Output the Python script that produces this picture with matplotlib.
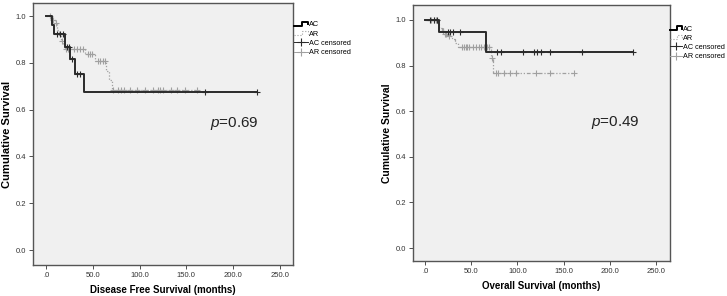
import numpy as np
import matplotlib
matplotlib.use("Agg")
import matplotlib.pyplot as plt
from matplotlib.lines import Line2D
from matplotlib.legend_handler import HandlerBase

plt.rcParams['font.family'] = ['Liberation Sans', 'DejaVu Sans']
plt.rcParams['mathtext.fontset'] = 'custom'
plt.rcParams['mathtext.it'] = 'Liberation Sans:italic'
plt.rcParams['mathtext.rm'] = 'Liberation Sans'

# Disease free survival
dfs_ac_t = [0, 6, 8.5, 20, 25.5, 31, 40.5]
dfs_ac_s = [1.0, 0.962, 0.925, 0.866, 0.815, 0.752, 0.677]
dfs_ac_end = 225
dfs_ac_cens = [12, 15, 18, 22, 24, 28, 33, 36, 170, 225]

dfs_ar_t = [0, 5, 9, 12, 14, 16, 18, 20, 42, 52, 64, 67, 70]
dfs_ar_s = [1.0, 0.985, 0.97, 0.94, 0.92, 0.895, 0.88, 0.86, 0.84, 0.81, 0.765, 0.725, 0.683]
dfs_ar_end = 161
dfs_ar_cens = [4, 7, 11, 17, 21, 23, 25, 30, 33, 36, 39, 45, 47, 49, 56, 58, 61, 63,
               72, 77, 80, 83, 90, 97, 106, 114, 120, 122, 125, 134, 140, 148, 161]

# Overall survival
os_ac_t = [0, 15, 66]
os_ac_s = [1.0, 0.946, 0.86]
os_ac_end = 225
os_ac_cens = [5, 10, 13, 25, 27, 30, 38, 78, 82, 106, 118, 121, 125, 135, 170, 225]

os_ar_t = [0, 13, 15, 18, 21, 24, 29, 32, 36, 71, 74]
os_ar_s = [1.0, 0.98, 0.965, 0.95, 0.94, 0.93, 0.915, 0.90, 0.88, 0.832, 0.767]
os_ar_end = 161
os_ar_cens = [7, 10, 12, 19, 20, 22, 23, 26, 40, 42, 44, 46, 48, 52, 55, 58, 61, 64,
              67, 69, 72, 77, 79, 86, 92, 98, 120, 135, 161]

xticks = [0, 50, 100, 150, 200, 250]
xticklabels = ['.0', '50.0', '100.0', '150.0', '200.0', '250.0']
yticks = [0.0, 0.2, 0.4, 0.6, 0.8, 1.0]

AC_COL = '#2a2a2a'
AR_COL = '#a0a0a0'


class StepHandler(HandlerBase):
    def create_artists(self, legend, orig, xd, yd, w, h, fontsize, trans):
        x = [xd, xd + 0.55 * w, xd + 0.55 * w, xd + w, xd + w]
        y = [yd + 0.15 * h, yd + 0.15 * h, yd + 0.85 * h, yd + 0.85 * h, yd + 0.4 * h]
        ln = Line2D(x, y, color=orig.get_color(), lw=orig.get_linewidth(),
                    ls=orig.get_linestyle(), transform=trans)
        return [ln]


def surv_at(t, times, surv):
    i = np.searchsorted(times, t, side='right') - 1
    return np.array(surv)[i]


def km(ax, t, s, end, cens, color, lw, ls):
    tt = list(t) + [end]
    ss = list(s) + [s[-1]]
    ax.step(tt, ss, where='post', color=color, lw=lw, ls=ls)
    cy = [surv_at(c, t, s) for c in cens]
    ax.plot(cens, cy, ls='none', marker='+', ms=4.5, mew=0.8, color=color)


def setup(ax, xlabel, xlim, ylim, ylab_size):
    ax.set_facecolor('#f0f0f0')
    ax.set_xlim(*xlim)
    ax.set_ylim(*ylim)
    ax.set_xticks(xticks)
    ax.set_xticklabels(xticklabels)
    ax.set_yticks(yticks)
    ax.set_yticklabels(['%.1f' % v for v in yticks])
    ax.tick_params(labelsize=5.5, length=3, width=0.6, colors='#333333', pad=2)
    for sp in ax.spines.values():
        sp.set_color('#555555')
        sp.set_linewidth(1.0)
    ax.set_xlabel(xlabel, fontsize=7, fontweight='bold', labelpad=4)
    ax.set_ylabel('Cumulative Survival', fontsize=ylab_size, fontweight='bold', labelpad=2.5)


def legend(ax, anchor, hl):
    h = [Line2D([], [], color='black', lw=1.4),
         Line2D([], [], color=AR_COL, lw=0.8, ls=':'),
         Line2D([], [], color=AC_COL, lw=0.7, marker='+', ms=6, mew=0.8),
         Line2D([], [], color=AR_COL, lw=0.7, marker='+', ms=6, mew=0.8)]
    ax.legend(h, ['AC', 'AR', 'AC censored', 'AR censored'],
              handler_map={h[0]: StepHandler(), h[1]: StepHandler()},
              loc='upper left', bbox_to_anchor=anchor, frameon=False,
              fontsize=5.2, handlelength=hl, handletextpad=0.15,
              labelspacing=0.3, borderpad=0, borderaxespad=0, numpoints=1)


fig = plt.figure(figsize=(7.27, 2.96), dpi=100)
ax1 = fig.add_axes([0.0454, 0.1047, 0.3576, 0.885])
ax2 = fig.add_axes([0.568, 0.118, 0.3535, 0.865])

km(ax1, dfs_ar_t, dfs_ar_s, dfs_ar_end, dfs_ar_cens, AR_COL, 0.9, (0, (1, 1.5)))
km(ax1, dfs_ac_t, dfs_ac_s, dfs_ac_end, dfs_ac_cens, AC_COL, 1.4, '-')
setup(ax1, 'Disease Free Survival (months)', (-14, 264), (-0.064, 1.056), 8)
ax1.text(175, 0.54, r'$p$=0.69', fontsize=11, color='#222222', va='center', ha='left')
legend(ax1, (1.005, 0.93), 1.9)

km(ax2, os_ar_t, os_ar_s, os_ar_end, os_ar_cens, AR_COL, 0.9, (0, (3, 1.5, 1, 1.5, 1, 1.5)))
km(ax2, os_ac_t, os_ac_s, os_ac_end, os_ac_cens, AC_COL, 1.4, '-')
setup(ax2, 'Overall Survival (months)', (-13, 265), (-0.057, 1.065), 7.5)
ax2.text(180, 0.55, r'$p$=0.49', fontsize=11, color='#222222', va='center', ha='left')
legend(ax2, (1.0, 0.92), 1.7)

fig.savefig('out.png', dpi=100)
